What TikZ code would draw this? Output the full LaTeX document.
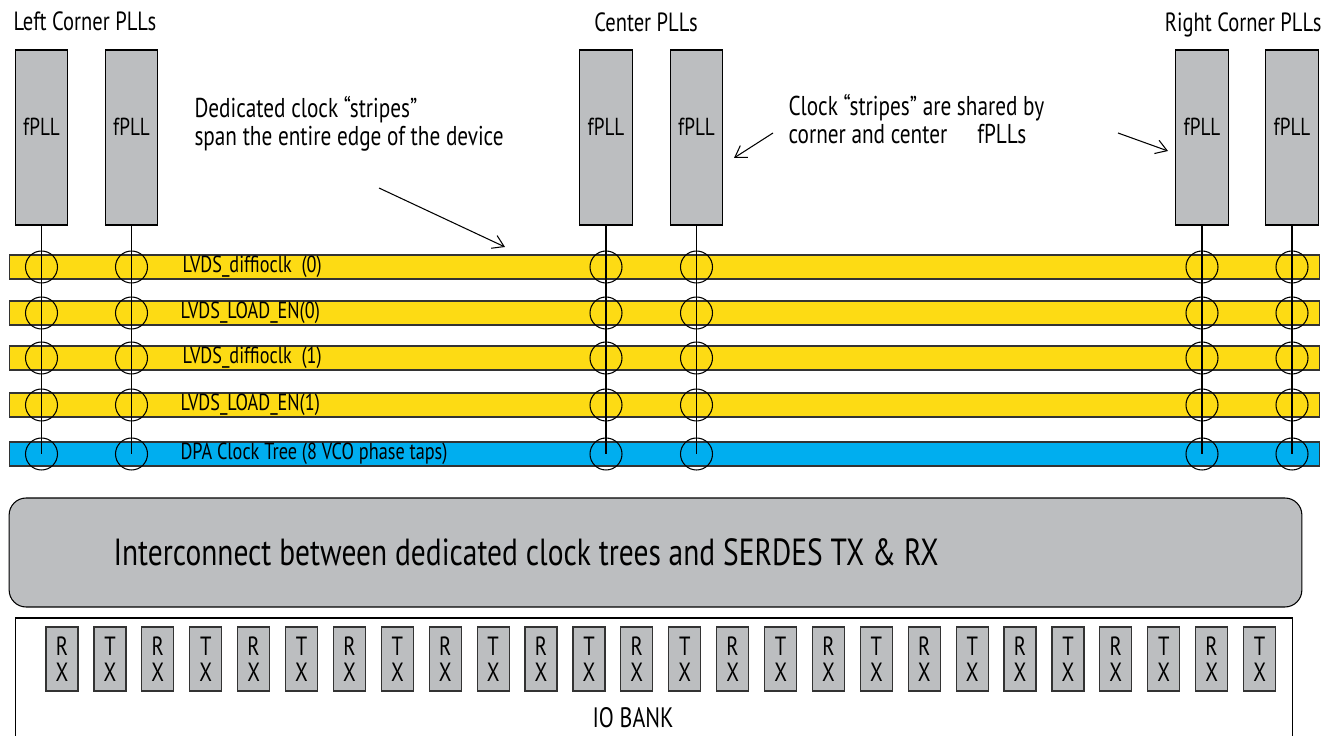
\documentclass[tikz,border=0pt]{standalone}
\usepackage{fontspec}
\setmainfont{PT Sans}[FakeStretch=0.78]
\usetikzlibrary{positioning, arrows.meta}
\definecolor{pllgray}{HTML}{BCBEC0}
\definecolor{stripeyel}{HTML}{FDDB14}
\definecolor{dpablue}{HTML}{00AEEF}

\begin{document}
\begin{tikzpicture}[x=0.02cm, y=-0.02cm, line width=0.6pt,
    pll/.style={draw, fill=pllgray, minimum width=1.05cm, minimum height=3.5cm, inner sep=0pt},
    stripe/.style={draw=black!80, minimum width=26.22cm, minimum height=0.48cm, inner sep=0pt},
    tap/.style={draw, circle, minimum size=0.64cm, inner sep=0pt},
    lane/.style={draw=black!80, fill=pllgray, minimum width=0.64cm, minimum height=1.28cm,
      inner sep=0pt, align=center, font=\fontsize{15}{15}\selectfont},
    lbl/.style={font=\fontsize{15}{17}\selectfont, inner sep=0pt},
    nlbl/.style={font=\fontsize{15.5}{16}\selectfont, inner sep=0pt, anchor=north west, align=left},
    slbl/.style={font=\fontsize{13.3}{15}\selectfont, inner sep=0pt, anchor=west},
    note/.style={-{Straight Barb[length=2.2mm,width=2.8mm]}, line width=0.6pt}]
  \clip (0,0) rectangle (1340,736);

  \node[lbl, anchor=base west] (hleft) at (13,31) {Left Corner PLLs};
  \node[lbl, anchor=base] (hcenter) at (646,32) {Center PLLs};
  \node[lbl, anchor=base east] (hright) at (1322,32) {Right Corner PLLs};

  \foreach \n/\x in {1/41.5, 2/131.5, 3/606, 4/696.5, 5/1202, 6/1292}
    \node[pll, label={[lbl, font=\fontsize{14}{16}\selectfont, yshift=0.21cm]center:fPLL}] (pll\n) at (\x,137.5) {};

  \foreach \i/\y/\c in {1/267/stripeyel, 2/313/stripeyel, 3/358/stripeyel, 4/405/stripeyel, 5/454/dpablue}
    \node[stripe, fill=\c] (s\i) at (664.5,\y) {};
  \node[slbl] (t1) at (182,267) {LVDS\_diffioclk\ \ (0)};
  \node[slbl] (t2) at (180,313) {LVDS\_LOAD\_EN(0)};
  \node[slbl] (t3) at (182,358) {LVDS\_diffioclk\ \ (1)};
  \node[slbl] (t4) at (180,405) {LVDS\_LOAD\_EN(1)};
  \node[slbl] (t5) at (180,454) {DPA\ Clock Tree (8 VCO phase taps)};

  \foreach \i in {1,...,5}
    \foreach \n in {1,...,6}
      \node[tap] (c\i-\n) at (pll\n |- s\i) {};
  \foreach \n in {1,...,6}
    \draw (pll\n.south) -- (c5-\n.center);

  \node[nlbl] (n1) at (194,96) {Dedicated clock “stripes”\\span the entire edge of the device};
  \node[nlbl] (n2) at (788,94) {Clock “stripes” are shared by\\corner and center\hspace{0.6cm}fPLLs};
  \coordinate (a1) at (379,188);  \coordinate (a1end) at (505,247);
  \coordinate (a2) at (773,133);  \coordinate (a2end) at (734,158);
  \coordinate (a3) at (1118,133); \coordinate (a3end) at (1168,151);
  \draw[note] (a1) -- (a1end);
  \draw[note] (a2) -- (a2end);
  \draw[note] (a3) -- (a3end);

  \node[draw, fill=pllgray, rounded corners=0.34cm, minimum width=25.86cm, minimum height=2.18cm,
    inner sep=0pt] (ic) at (655.5,552.5) {};
  \node[font=\fontsize{21.5}{24}\selectfont, anchor=base west, inner sep=0pt] (ictext) at (113,566)
    {Interconnect between dedicated clock trees and SERDES TX \& RX};

  \node[draw, minimum width=25.56cm, minimum height=3cm, inner sep=0pt] (iob) at (654,693) {};
  \node[font=\fontsize{16}{18}\selectfont, anchor=base, inner sep=0pt] (iotext) at (633,727) {IO BANK};
  \foreach \k in {0,...,12} {
    \node[lane] (rx\k) at ({62+95.8*\k},659) {R\\X};
    \node[lane] (tx\k) at ({110+95.8*\k},659) {T\\X};
  }
\end{tikzpicture}
\end{document}
